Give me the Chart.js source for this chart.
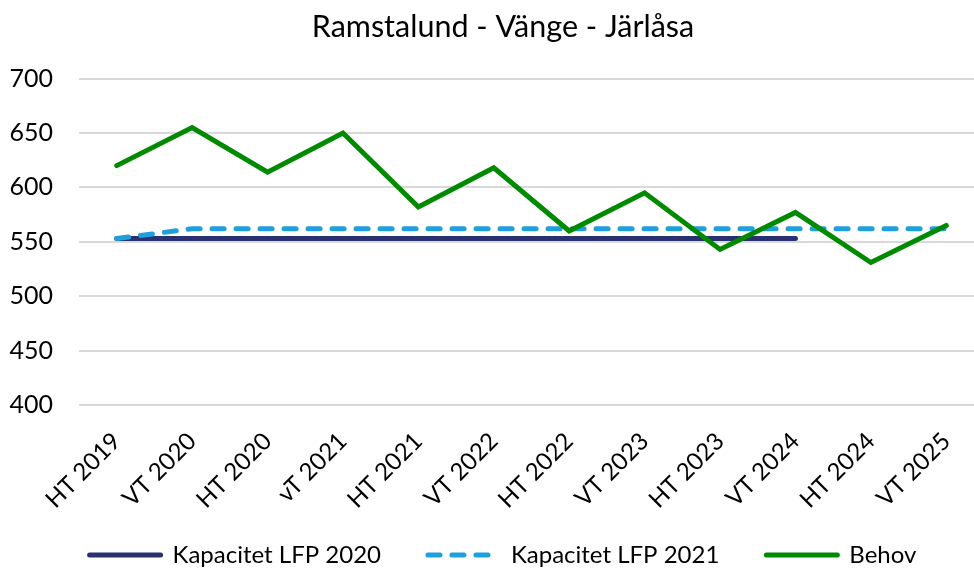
<!DOCTYPE html>
<html>
<head>
<meta charset="utf-8">
<title>Ramstalund - Vänge - Järlåsa</title>
<script src="https://cdn.jsdelivr.net/npm/chart.js@4/dist/chart.umd.min.js"></script>
<style>
  html, body { margin: 0; padding: 0; background: #fff; overflow: hidden; }
  #wrap { width: 974px; height: 570px; overflow: hidden; position: relative; }
  canvas { display: block; }
</style>
</head>
<body>
<div id="wrap"><canvas id="chart" width="1010" height="570"></canvas></div>
<script>
// Terms (autumn HT / spring VT)
const terms = ['HT 2019', 'VT 2020', 'HT 2020', 'vT 2021', 'HT 2021', 'VT 2022',
               'HT 2022', 'VT 2023', 'HT 2023', 'VT 2024', 'HT 2024', 'VT 2025'];

// Capacity according to LFP 2020 (ends at VT 2024)
const kapacitetLfp2020 = [553, 553, 553, 553, 553, 553, 553, 553, 553, 553, null, null];

// Capacity according to LFP 2021
const kapacitetLfp2021 = [553, 562, 562, 562, 562, 562, 562, 562, 562, 562, 562, 562];

// Need (number of places)
const behov = [620, 655, 614, 650, 582, 618, 560, 595, 543, 577, 531, 565];

// Value axis
const yMin = 400;
const yMax = 700;
const yStep = 50;

const FONT = 'Lato, "Open Sans", sans-serif';

// Let the legend sit a little tighter against the bottom edge
const legendTighten = {
  id: 'legendTighten',
  beforeLayout(chart) {
    const lg = chart.legend;
    if (lg && !lg._tightened) {
      const fit = lg.fit.bind(lg);
      lg.fit = function () { fit(); this.height -= 7; };
      lg._tightened = true;
    }
  }
};

// Legend entries drawn as line samples carrying each dataset's dash pattern
function lineLegendLabels(chart) {
  const items = Chart.defaults.plugins.legend.labels.generateLabels(chart);
  return items.map(item => {
    const ds = chart.data.datasets[item.datasetIndex];
    item.lineDash = ds.borderDash || [];
    item.lineCap = ds.borderCapStyle || 'butt';
    item.lineWidth = ds.borderWidth;
    item.strokeStyle = ds.borderColor;
    return item;
  });
}

new Chart(document.getElementById('chart'), {
  type: 'line',
  plugins: [legendTighten],
  data: {
    labels: terms,
    datasets: [
      {
        label: 'Kapacitet LFP 2020',
        data: kapacitetLfp2020,
        borderColor: '#2A3170',
        backgroundColor: '#2A3170',
        borderWidth: 5,
        borderCapStyle: 'round',
        pointRadius: 0,
        tension: 0,
        order: 3
      },
      {
        label: 'Kapacitet LFP 2021',
        data: kapacitetLfp2021,
        borderColor: '#1F9FDC',
        backgroundColor: '#1F9FDC',
        borderWidth: 5,
        borderDash: [12, 12],
        borderCapStyle: 'round',
        pointRadius: 0,
        tension: 0,
        order: 2
      },
      {
        label: 'Behov',
        data: behov,
        borderColor: '#008A00',
        backgroundColor: '#008A00',
        borderWidth: 5,
        borderCapStyle: 'round',
        borderJoinStyle: 'miter',
        pointRadius: 0,
        tension: 0,
        order: 1
      }
    ]
  },
  options: {
    responsive: false,
    animation: false,
    layout: { padding: { left: 22, right: 26, top: 0, bottom: 0 } },
    plugins: {
      title: {
        display: true,
        text: 'Ramstalund - Vänge - Järlåsa',
        color: '#000',
        font: { family: FONT, size: 30.5, weight: 'normal' },
        padding: { top: 9, bottom: 33 }
      },
      legend: {
        display: true,
        position: 'bottom',
        labels: {
          usePointStyle: true,
          pointStyle: 'line',
          pointStyleWidth: 71,
          boxHeight: 24,
          color: '#000',
          padding: 47,
          font: { family: FONT, size: 24, lineHeight: 1.2 },
          generateLabels: lineLegendLabels,
          sort: (a, b) => a.datasetIndex - b.datasetIndex
        }
      },
      tooltip: { enabled: false }
    },
    scales: {
      x: {
        offset: true,
        grid: { display: false, drawTicks: false },
        border: { display: false },
        ticks: {
          color: '#000',
          font: { family: FONT, size: 24 },
          maxRotation: 45,
          minRotation: 45,
          padding: 22
        },
        afterFit(scale) {
          scale.height = 91;
          // rotated labels may reach below the axis box
          scale._computeLabelArea = () => undefined;
        }
      },
      y: {
        min: yMin,
        max: yMax,
        border: { display: false },
        grid: { color: '#D9D9D9', lineWidth: 2, drawTicks: false },
        ticks: {
          stepSize: yStep,
          color: '#000',
          padding: 26,
          font: { family: FONT, size: 25 }
        },
        afterFit(scale) {
          scale.width = 57;
          // labels extend into the left margin
          scale._computeLabelArea = () => undefined;
        }
      }
    }
  }
});
</script>
</body>
</html>
